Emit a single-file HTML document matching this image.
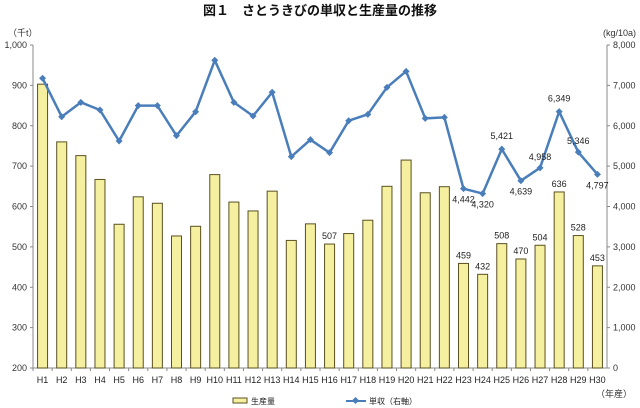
<!DOCTYPE html>
<html><head><meta charset="utf-8"><style>
body{margin:0;background:#fff;}
svg{display:block;font-family:"Liberation Sans","Noto Sans CJK JP",sans-serif;}
</style></head><body>
<svg id="chart" width="640" height="408">
<text x="320" y="15" text-anchor="middle" font-size="13" font-weight="bold" fill="#111">図１　さとうきびの単収と生産量の推移</text>
<text x="8" y="36" font-size="9" fill="#333">（千t）</text>
<text x="636" y="36" font-size="9" fill="#333" text-anchor="end">(kg/10a)</text>
<text x="632" y="397" font-size="9" fill="#333" text-anchor="end">（年産）</text>
<g id="plot"></g>
<g>
<rect x="233" y="398" width="14" height="5" fill="#f5f0a0" stroke="#5a5020"/>
<text x="251" y="404" font-size="8" fill="#222">生産量</text>
<line x1="346" y1="401" x2="366" y2="401" stroke="#4a7ebb" stroke-width="2"/>
<rect x="353" y="398" width="5" height="5" fill="#4a7ebb" transform="rotate(45 355.5 400.5)"/>
<text x="369" y="404" font-size="8" fill="#222">単収（右軸）</text>
</g>
</svg>
<script>
const categories=["H1","H2","H3","H4","H5","H6","H7","H8","H9","H10","H11","H12","H13","H14","H15","H16","H17","H18","H19","H20","H21","H22","H23","H24","H25","H26","H27","H28","H29","H30"];
const production=[903,760,726,667,556,624,608,527,551,679,611,589,638,516,557,507,533,566,650,715,634,649,459,432,508,470,504,636,528,453];
const yieldValues=[7175,6224,6580,6390,5622,6497,6497,5754,6348,7621,6580,6241,6829,5234,5655,5333,6125,6283,6952,7348,6184,6208,4442,4320,5421,4639,4958,6349,5346,4797];
const leftTicks=[200,300,400,500,600,700,800,900,1000];
const leftTickLabels=["200","300","400","500","600","700","800","900","1,000"];
const rightTicks=[0,1000,2000,3000,4000,5000,6000,7000,8000];
const rightTickLabels=["0","1,000","2,000","3,000","4,000","5,000","6,000","7,000","8,000"];
const barLabelIdx=[15,22,23,24,25,26,27,28,29];
const lineLabelIdx=[22,23,24,25,26,27,28,29];
const lineLabelText=["4,442","4,320","5,421","4,639","4,958","6,349","5,346","4,797"];

const X0=33,X1=607,YT=45,YB=368;
const NS="http://www.w3.org/2000/svg";
const g=document.getElementById('plot');
const step=(X1-X0)/categories.length;
const xc=i=>X0+step*(i+0.5);
const yL=v=>YB-(v-200)/800*(YB-YT);
const yR=v=>YB-v/8000*(YB-YT);
function mk(t,a){const e=document.createElementNS(NS,t);for(const k in a)e.setAttribute(k,a[k]);g.appendChild(e);return e;}
// axes
let e=mk('line',{x1:X0,y1:YT,x2:X0,y2:YB,stroke:'#888'});


e=mk('line',{x1:X1,y1:YT,x2:X1,y2:YB,stroke:'#888'});


e=mk('line',{x1:X0,y1:YB,x2:X1,y2:YB,stroke:'#888'});


leftTicks.forEach((v,i)=>{
  mk('line',{x1:X0-3,y1:yL(v),x2:X0,y2:yL(v),stroke:'#888'});
  const t=mk('text',{x:X0-6,y:yL(v)+3,'font-size':9,'text-anchor':'end',fill:'#333'});
  t.textContent=leftTickLabels[i];
  
  
});
rightTicks.forEach((v,i)=>{
  mk('line',{x1:X1,y1:yR(v),x2:X1+3,y2:yR(v),stroke:'#888'});
  const t=mk('text',{x:X1+6,y:yR(v)+3,'font-size':9,fill:'#333'});
  t.textContent=rightTickLabels[i];
  
  
});
categories.forEach((c,i)=>{
  mk('line',{x1:X0+step*i,y1:YB,x2:X0+step*i,y2:YB+3,stroke:'#888'});
  const t=mk('text',{x:xc(i),y:YB+15,'font-size':9,'text-anchor':'middle',fill:'#222'});
  t.textContent=c;
  
  
});
// bars
production.forEach((v,i)=>{
  const r=mk('rect',{x:xc(i)-5,y:yL(v),width:10,height:YB-yL(v),fill:'#f5f0a0',stroke:'#5a5020','stroke-width':1});
  
  
});
barLabelIdx.forEach(i=>{
  const t=mk('text',{x:xc(i),y:yL(production[i])-5,'font-size':9,'text-anchor':'middle',fill:'#222'});
  t.textContent=production[i];
  
  
});
// line
const pl=mk('polyline',{points:yieldValues.map((v,i)=>xc(i)+','+yR(v)).join(' '),fill:'none',stroke:'#4a7ebb','stroke-width':2.5,'stroke-linejoin':'round'});


yieldValues.forEach((v,i)=>{
  const x=xc(i),y=yR(v);
  const p=mk('polygon',{points:`${x},${y-3.5} ${x+3.5},${y} ${x},${y+3.5} ${x-3.5},${y}`,fill:'#4a7ebb'});
  
  
});
const offs={22:[0,14],23:[0,14],24:[0,-10],25:[0,14],26:[0,-8],27:[0,-10],28:[0,-8],29:[0,14]};
lineLabelIdx.forEach((i,k)=>{
  const o=offs[i]||[0,-10];
  const t=mk('text',{x:xc(i)+o[0],y:yR(yieldValues[i])+o[1],'font-size':9,'text-anchor':'middle',fill:'#222'});
  t.textContent=lineLabelText[k];
  
  
});
</script>
</body></html>
